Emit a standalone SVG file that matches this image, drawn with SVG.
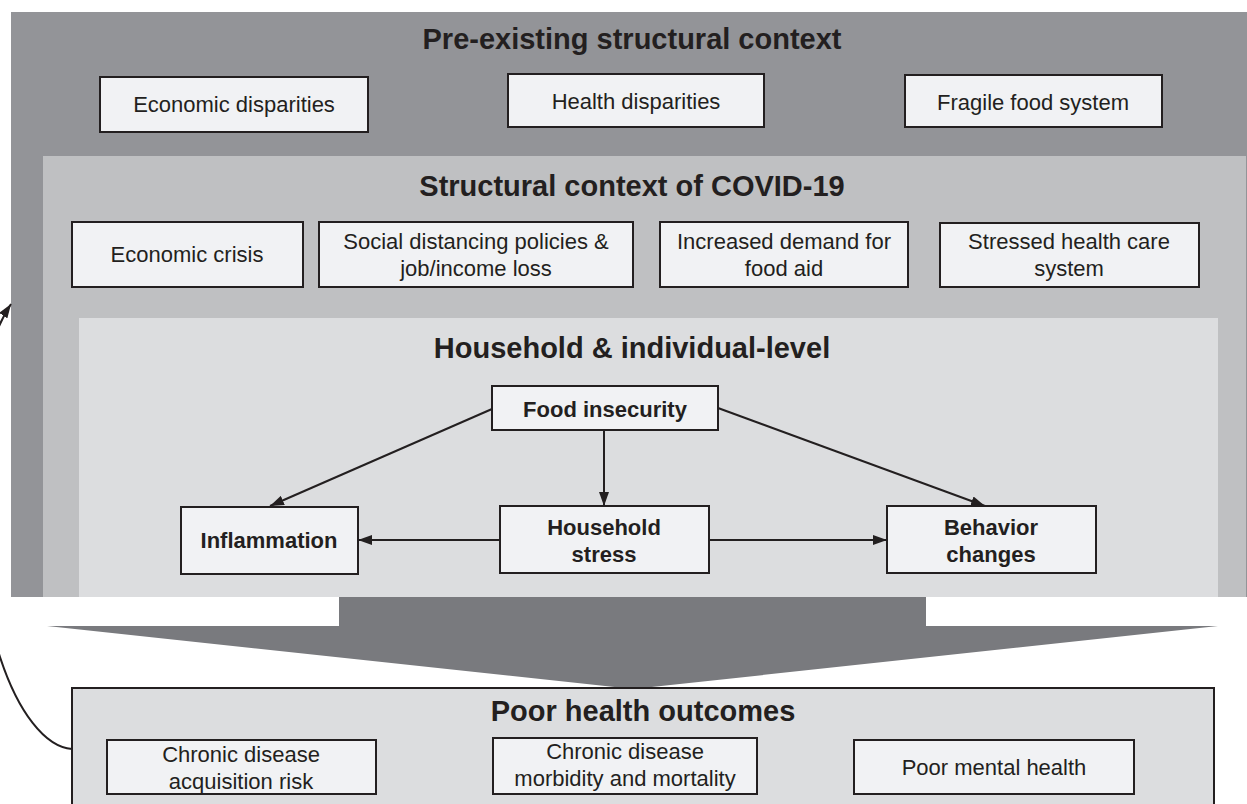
<svg xmlns="http://www.w3.org/2000/svg" width="1247" height="804" viewBox="0 0 1247 804">
<style>
text{font-family:"Liberation Sans",Arial,sans-serif;fill:#231f20;text-anchor:middle}
.t{font-size:29px;font-weight:bold}
.r{font-size:22px}
.b{font-size:22px;font-weight:bold}
.box{fill:#f1f2f4;stroke:#231f20;stroke-width:2}
.ln{stroke:#231f20;stroke-width:2;fill:none}
</style>
<defs>
<marker id="ah" viewBox="0 0 14 10" refX="14" refY="5" markerWidth="14" markerHeight="10" markerUnits="userSpaceOnUse" orient="auto">
<path d="M0,0 L14,5 L0,10 Z" fill="#231f20"/>
</marker>
</defs>
<rect width="1247" height="804" fill="#ffffff"/>
<g id="outer-context">
<rect x="11" y="12" width="1236" height="585" fill="#939498"/>
<text class="t" x="632" y="49">Pre-existing structural context</text>
</g>
<g id="economic-disparities"><rect class="box" x="100" y="77" width="268" height="55"/><text class="r" x="234" y="112">Economic disparities</text></g>
<g id="health-disparities"><rect class="box" x="508" y="74" width="256" height="53"/><text class="r" x="636" y="109">Health disparities</text></g>
<g id="fragile-food-system"><rect class="box" x="905" y="75" width="257" height="52"/><text class="r" x="1033" y="110">Fragile food system</text></g>
<g id="covid-context">
<rect x="43" y="156" width="1203" height="441" fill="#bfc0c2"/>
<text class="t" x="632" y="196">Structural context of COVID-19</text>
</g>
<g id="economic-crisis"><rect class="box" x="72" y="222" width="231" height="65"/><text class="r" x="187" y="262">Economic crisis</text></g>
<g id="social-distancing"><rect class="box" x="319" y="222" width="314" height="65"/><text class="r" x="476" y="249">Social distancing policies &amp;</text><text class="r" x="476" y="276">job/income loss</text></g>
<g id="food-aid"><rect class="box" x="660" y="222" width="248" height="65"/><text class="r" x="784" y="249">Increased demand for</text><text class="r" x="784" y="276">food aid</text></g>
<g id="health-care"><rect class="box" x="940" y="223" width="259" height="64"/><text class="r" x="1069" y="249">Stressed health care</text><text class="r" x="1069" y="276">system</text></g>
<g id="household-level">
<rect x="79" y="318" width="1139" height="279" fill="#dcdddf"/>
<text class="t" x="632" y="358">Household &amp; individual-level</text>
</g>
<g id="food-insecurity"><rect class="box" x="492" y="386" width="226" height="44"/><text class="b" x="605" y="417">Food insecurity</text></g>
<g id="inflammation"><rect class="box" x="181" y="507" width="177" height="67"/><text class="b" x="269" y="548">Inflammation</text></g>
<g id="household-stress"><rect class="box" x="500" y="506" width="209" height="67"/><text class="b" x="604" y="535">Household</text><text class="b" x="604" y="562">stress</text></g>
<g id="behavior-changes"><rect class="box" x="887" y="506" width="209" height="67"/><text class="b" x="991" y="535">Behavior</text><text class="b" x="991" y="562">changes</text></g>
<g id="big-arrow">
<polygon points="339,597 926,597 926,626 1218,626 633,689 47,626 339,626" fill="#797a7e"/>
</g>
<g id="poor-health-outcomes">
<rect x="72" y="688" width="1142" height="130" fill="#dcdddf" stroke="#231f20" stroke-width="2"/>
<text class="t" x="643" y="721">Poor health outcomes</text>
</g>
<g id="acquisition-risk"><rect class="box" x="107" y="740" width="269" height="54"/><text class="r" x="241" y="762">Chronic disease</text><text class="r" x="241" y="789">acquisition risk</text></g>
<g id="morbidity-mortality"><rect class="box" x="493" y="738" width="264" height="56"/><text class="r" x="625" y="759">Chronic disease</text><text class="r" x="625" y="786">morbidity and mortality</text></g>
<g id="mental-health"><rect class="box" x="854" y="740" width="280" height="54"/><text class="r" x="994" y="775">Poor mental health</text></g>
<g id="connectors">
<line class="ln" x1="492" y1="409" x2="270" y2="506" marker-end="url(#ah)"/>
<line class="ln" x1="604" y1="430" x2="604" y2="506" marker-end="url(#ah)"/>
<line class="ln" x1="718" y1="408" x2="985" y2="506" marker-end="url(#ah)"/>
<line class="ln" x1="500" y1="540" x2="358" y2="540" marker-end="url(#ah)"/>
<line class="ln" x1="709" y1="540" x2="887" y2="540" marker-end="url(#ah)"/>
<path class="ln" d="M72,749 C45,747 18,712 0,657 C-30,565 -40,380 11,304" marker-end="url(#ah)"/>
</g>
</svg>
